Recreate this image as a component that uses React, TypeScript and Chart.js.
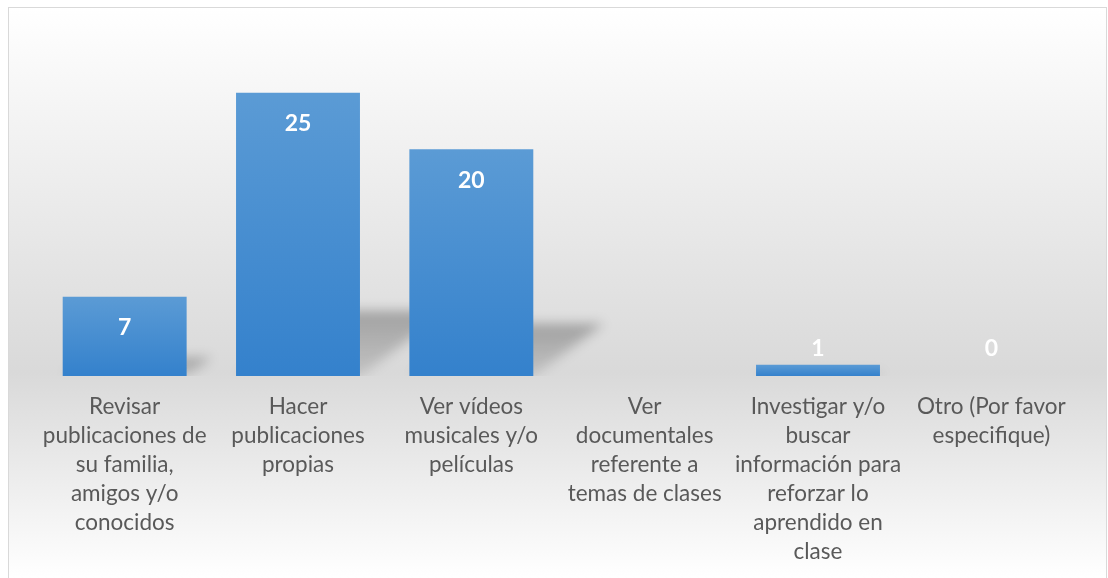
import React, { useEffect, useRef } from "react";
import { Chart, registerables } from "chart.js";

Chart.register(...registerables);

const categories: string[][] = [
  ["Revisar", "publicaciones de", "su familia,", "amigos y/o", "conocidos"],
  ["Hacer", "publicaciones", "propias"],
  ["Ver vídeos", "musicales y/o", "películas"],
  ["Ver", "documentales", "referente a", "temas de clases"],
  ["Investigar y/o", "buscar", "información para", "reforzar lo", "aprendido en", "clase"],
  ["Otro (Por favor", "especifique)"],
];
const values: (number | null)[] = [7, 25, 20, null, 1, 0];
const yMin = 0;
const yMax = 30;

const shadowPlugin = {
  id: "barShadow",
  beforeDatasetsDraw(chart: any) {
    const { ctx, scales } = chart;
    const meta = chart.getDatasetMeta(0);
    const base = scales.y.getPixelForValue(0);
    ctx.save();
    ctx.beginPath();
    ctx.rect(0, 0, chart.width, base);
    ctx.clip();
    ctx.filter = "blur(6px)";
    meta.data.forEach((el: any, i: number) => {
      const v = values[i];
      if (v == null || v <= 0) return;
      const { x, y, width } = el.getProps(["x", "y", "width"], true);
      const h = base - y;
      const sx = h * 0.31;
      const sh = h * 0.23;
      const l = x - width / 2;
      const r = x + width / 2;
      const g = ctx.createLinearGradient(0, base, 0, base - sh);
      g.addColorStop(0, "rgba(0,0,0,0.10)");
      g.addColorStop(1, "rgba(0,0,0,0.28)");
      ctx.fillStyle = g;
      ctx.beginPath();
      ctx.moveTo(l, base);
      ctx.lineTo(r, base);
      ctx.lineTo(r + sx, base - sh);
      ctx.lineTo(l + sx, base - sh);
      ctx.closePath();
      ctx.fill();
    });
    ctx.restore();
  },
};

const labelPlugin = {
  id: "barLabels",
  afterDatasetsDraw(chart: any) {
    const { ctx, scales } = chart;
    const meta = chart.getDatasetMeta(0);
    const base = scales.y.getPixelForValue(0);
    ctx.save();
    ctx.font = "bold 23px Lato";
    ctx.fillStyle = "#ffffff";
    ctx.textAlign = "center";
    ctx.textBaseline = "middle";
    meta.data.forEach((el: any, i: number) => {
      const v = values[i];
      if (v == null) return;
      const top = scales.y.getPixelForValue(v);
      const y = Math.min(top + 31, base - 27);
      ctx.fillText(String(v), el.x, y);
    });
    ctx.restore();
  },
};

export default function App() {
  const ref = useRef<HTMLCanvasElement>(null);
  useEffect(() => {
    if (!ref.current) return;
    const chart = new Chart(ref.current, {
      type: "bar",
      data: {
        labels: categories,
        datasets: [
          {
            data: values,
            backgroundColor: (c: any) => {
              const ch = c.chart;
              const sc = ch.scales && ch.scales.y;
              if (!sc || c.raw == null) return "#4a8fd3";
              const top = sc.getPixelForValue(c.raw);
              const base = sc.getPixelForValue(0);
              if (!isFinite(top) || !isFinite(base) || base - top < 1) return "#3b84cf";
              const g = ch.ctx.createLinearGradient(0, top, 0, base);
              g.addColorStop(0, "#5b9bd5");
              g.addColorStop(1, "#3481cc");
              return g;
            },
            borderWidth: 0,
            barPercentage: 0.715,
            categoryPercentage: 1,
          },
        ],
      },
      options: {
        responsive: false,
        animation: false,
        layout: { padding: { left: 29, right: 28, top: 28, bottom: 0 } },
        plugins: { legend: { display: false }, tooltip: { enabled: false } },
        scales: {
          x: {
            grid: { display: false, drawTicks: false },
            border: { display: false },
            ticks: {
              autoSkip: false,
              maxRotation: 0,
              minRotation: 0,
              padding: 16,
              color: "#595959",
              font: { family: "Lato", size: 22.5, lineHeight: "29px" },
            },
          },
          y: { display: false, min: yMin, max: yMax },
        },
      },
      plugins: [shadowPlugin, labelPlugin],
    });
    return () => chart.destroy();
  }, []);

  return (
    <div
      style={{
        position: "fixed",
        left: 8,
        top: 7,
        width: 1099,
        height: 571,
        boxSizing: "border-box",
        borderTop: "1px solid #d9d9d9",
        borderLeft: "1px solid #d9d9d9",
        borderRight: "1px solid #d9d9d9",
        overflow: "hidden",
        background: "linear-gradient(to bottom, #ffffff 0%, #d9d9d9 64%, #ffffff 100%)",
      }}
    >
      <canvas ref={ref} width={1097} height={574} style={{ display: "block", width: 1097, height: 574 }} />
    </div>
  );
}
